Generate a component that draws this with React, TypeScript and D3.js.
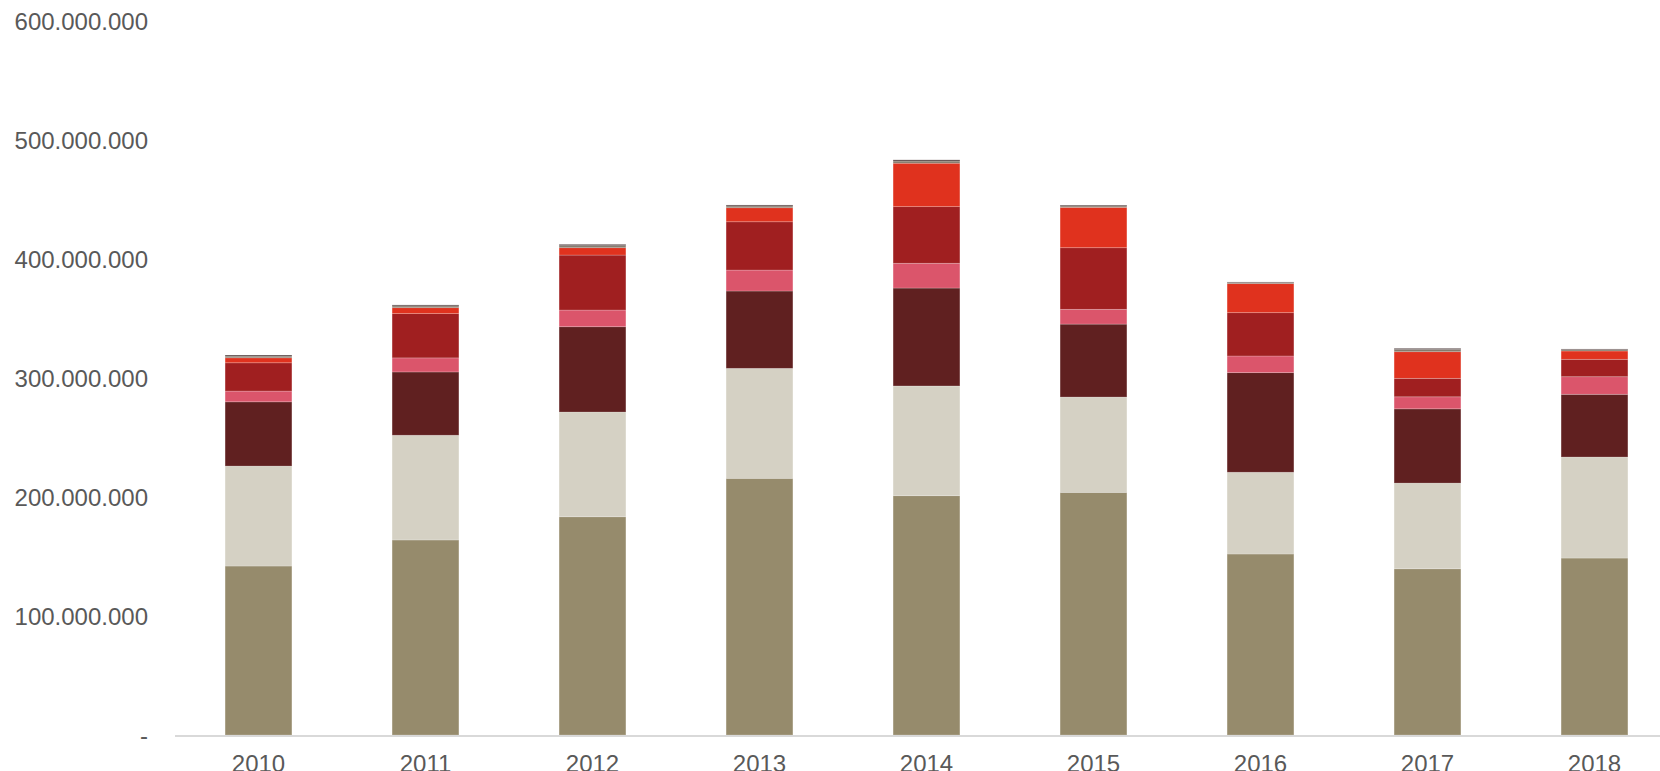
import React from "react";
import * as d3 from "d3";

const years = ["2010", "2011", "2012", "2013", "2014", "2015", "2016", "2017", "2018"];

// values in millions
const seriesOlive = [142.0, 163.9, 183.4, 215.7, 201.1, 203.9, 152.1, 139.7, 148.7];
const seriesLight = [84.0, 88.0, 88.0, 92.4, 92.2, 80.1, 68.7, 72.0, 84.9];
const seriesMaroon = [54.0, 53.2, 71.7, 65.0, 82.3, 61.3, 83.7, 62.4, 52.7];
const seriesPink = [9.0, 11.8, 14.0, 17.6, 20.8, 12.4, 14.0, 10.1, 14.8];
const seriesRed = [23.8, 37.2, 46.2, 40.6, 47.6, 51.8, 36.4, 15.5, 14.6];
const seriesOrange = [4.2, 5.0, 6.2, 11.8, 36.5, 33.9, 24.4, 22.4, 7.0];
const seriesGray = [1.4, 1.5, 1.7, 1.5, 1.8, 1.2, 0.9, 1.8, 1.1];
const seriesDark = [0.9, 0.8, 1.1, 0.8, 1.0, 0.7, 0.5, 1.0, 0.6];

const yTicks = [0, 100, 200, 300, 400, 500, 600];

const seriesList = [
  { key: "olive", values: seriesOlive, color: "#968B6C" },
  { key: "light", values: seriesLight, color: "#D5D1C4" },
  { key: "maroon", values: seriesMaroon, color: "#602020" },
  { key: "pink", values: seriesPink, color: "#DB556B" },
  { key: "red", values: seriesRed, color: "#A01F20" },
  { key: "orange", values: seriesOrange, color: "#E0321E" },
  { key: "gray", values: seriesGray, color: "#857A6C" },
  { key: "dark", values: seriesDark, color: "#4E3B3B" },
];

const W = 1660;
const H = 771;

const locale = d3.formatLocale({ decimal: ",", thousands: ".", grouping: [3], currency: ["", ""] });
const fmt = locale.format(",.0f");

export default function App() {
  const x = d3.scaleBand<string>().domain(years).range([175, 1678]).paddingInner(0.6).paddingOuter(0.3);
  const y = d3.scaleLinear().domain([0, 600]).range([735, 21]);

  const rows = years.map((yr, i) => {
    const r: any = { year: yr };
    seriesList.forEach((s) => (r[s.key] = s.values[i]));
    return r;
  });
  const stacked = d3.stack().keys(seriesList.map((s) => s.key))(rows);

  const font = "'Liberation Sans', Arial, sans-serif";

  return (
    <svg
      width={W}
      height={H}
      style={{ position: "absolute", left: 0, top: 0, background: "#fff" }}
    >
      {stacked.map((layer, li) => (
        <g key={layer.key} fill={seriesList[li].color}>
          {layer.map((d, i) => (
            <rect
              key={i}
              x={x(years[i])}
              width={x.bandwidth()}
              y={y(d[1])}
              height={Math.max(0, y(d[0]) - y(d[1]))}
              stroke="rgba(255,255,255,0.25)"
              strokeWidth={0.8}
            />
          ))}
        </g>
      ))}
      <line x1={175} x2={W} y1={736} y2={736} stroke="#D9D9D9" strokeWidth={2} />
      {yTicks.map((t) => (
        <text
          key={t}
          x={148}
          y={y(t) + 8.5}
          textAnchor="end"
          fontFamily={font}
          fontSize={24}
          fill="#595959"
        >
          {t === 0 ? "-" : fmt(t * 1e6)}
        </text>
      ))}
      {years.map((yr) => (
        <text
          key={yr}
          x={(x(yr) as number) + x.bandwidth() / 2}
          y={772}
          textAnchor="middle"
          fontFamily={font}
          fontSize={24}
          fill="#595959"
        >
          {yr}
        </text>
      ))}
    </svg>
  );
}
